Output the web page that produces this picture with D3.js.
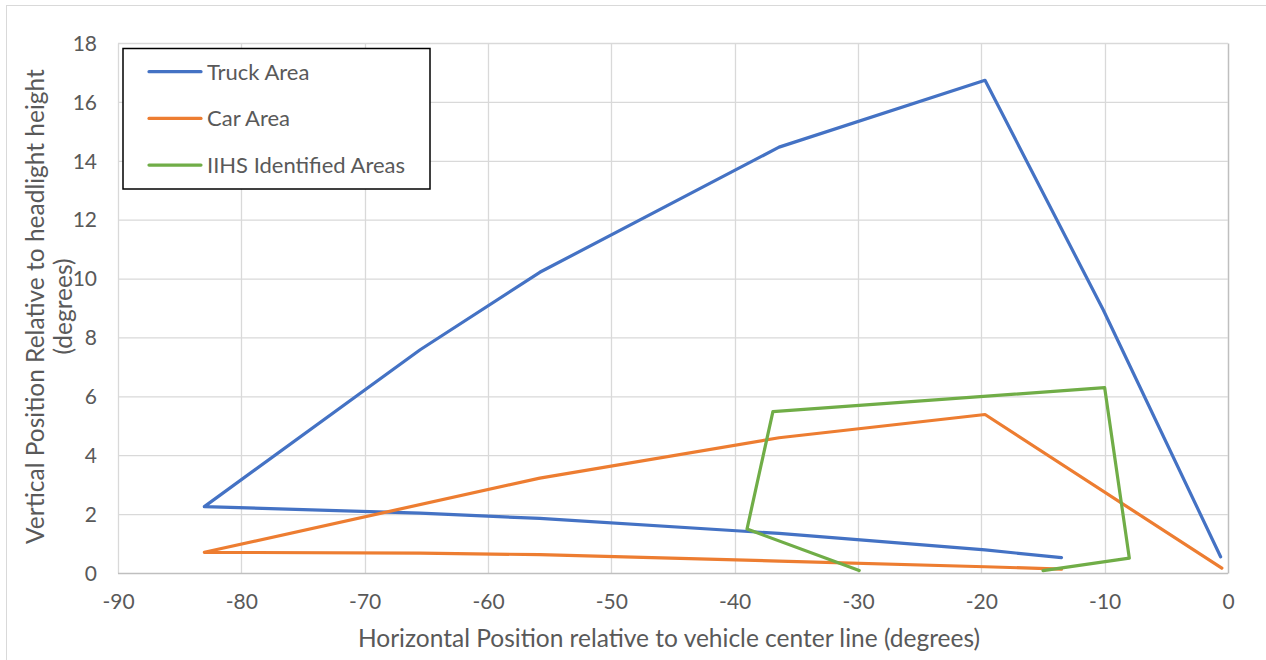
<!DOCTYPE html>
<html><head><meta charset="utf-8">
<script src="https://cdn.jsdelivr.net/npm/d3@7/dist/d3.min.js"></script>
<style>body{margin:0;background:#fff}svg{display:block}text{font-family:Lato,"Open Sans",sans-serif;fill:#595959}</style>
</head><body><svg id="c" width="1266" height="660"></svg>
<script>
const xTicks = [-90,-80,-70,-60,-50,-40,-30,-20,-10,0];
const yTicks = [0,2,4,6,8,10,12,14,16,18];
const seriesNames = ["Truck Area","Car Area","IIHS Identified Areas"];
const seriesColors = ["#4472C4","#ED7D31","#70AD47"];
const truckX = [-13.5,-19.7,-36.4,-55.8,-65.5,-83.0,-65.5,-55.8,-36.4,-19.7,-10.1,-0.6];
const truckY = [0.54,0.80,1.36,1.87,2.05,2.27,7.60,10.23,14.48,16.75,8.94,0.57];
const carX = [-13.5,-19.7,-36.4,-55.8,-65.5,-83.0,-55.8,-36.4,-19.7,-0.5];
const carY = [0.15,0.23,0.42,0.64,0.69,0.72,3.24,4.61,5.40,0.18];
const iihsX = [-29.9,-39.0,-36.9,-10.0,-8.0,-15.0];
const iihsY = [0.10,1.51,5.50,6.31,0.52,0.10];

const svg = d3.select("#c");
const L=118, R=1228, T=43.5, B=573.5;
const x = d3.scaleLinear().domain([-90,0]).range([L,R]);
const y = d3.scaleLinear().domain([0,18]).range([B,T]);

svg.append("rect").attr("x",6.5).attr("y",5.5).attr("width",1300).attr("height",700)
  .attr("fill","none").attr("stroke","#d9d9d9").attr("stroke-width",1);

// gridlines
const g = svg.append("g");
g.selectAll(".vx").data(xTicks).join("line")
  .attr("x1",d=>Math.round(x(d))+0.5).attr("x2",d=>Math.round(x(d))+0.5).attr("y1",T).attr("y2",B)
  .attr("stroke",d=>d===0?"#bfbfbf":"#d9d9d9").attr("stroke-width",d=>d===0?1.5:1.3);
g.selectAll(".hy").data(yTicks).join("line")
  .attr("y1",d=>y(d)).attr("y2",d=>y(d)).attr("x1",L).attr("x2",R)
  .attr("stroke",d=>d===0?"#bfbfbf":"#d9d9d9").attr("stroke-width",d=>d===0?1.5:1.3);

const fmt = d=>String(d);
const xAxis = svg.append("g").attr("transform",`translate(0,${B})`)
  .call(d3.axisBottom(x).tickValues(xTicks).tickFormat(fmt).tickSize(0).tickPadding(21));
xAxis.select(".domain").remove();
xAxis.selectAll("text").style("font-size","21px").style("fill","#595959").style("font-family","Lato,sans-serif");
const yAxis = svg.append("g").attr("transform",`translate(${L},0)`)
  .call(d3.axisLeft(y).tickValues(yTicks).tickFormat(fmt).tickSize(0).tickPadding(21));
yAxis.select(".domain").remove();
yAxis.selectAll("text").style("font-size","21px").style("fill","#595959").style("font-family","Lato,sans-serif");

// series
const line = d3.line().x(d=>x(d[0])).y(d=>y(d[1]));
const series = [d3.zip(truckX,truckY), d3.zip(carX,carY), d3.zip(iihsX,iihsY)];
svg.append("g").selectAll("path").data(series).join("path")
  .attr("d",line).attr("fill","none")
  .attr("stroke",(d,i)=>seriesColors[i]).attr("stroke-width",3.2)
  .attr("stroke-linejoin","round").attr("stroke-linecap","round");

// axis titles
svg.append("text").attr("x",669).attr("y",647).attr("text-anchor","middle")
  .style("font-size","24.5px").text("Horizontal Position relative to vehicle center line (degrees)");
const yt = svg.append("text").attr("transform",`translate(44,${(T+B)/2-2}) rotate(-90)`).attr("text-anchor","middle")
  .style("font-size","24.5px");
yt.append("tspan").attr("x",0).attr("dy",0).text("Vertical Position Relative to headlight height");
yt.append("tspan").attr("x",0).attr("dy",28).text("(degrees)");

// legend
const lg = svg.append("g");
lg.append("rect").attr("x",123).attr("y",48.5).attr("width",307).attr("height",140.5)
  .attr("fill","#fff").attr("stroke","#000").attr("stroke-width",1.5);
const items = lg.selectAll(".it").data(seriesNames).join("g").attr("transform",(d,i)=>`translate(0,${71.7+i*46.7})`);
items.append("line").attr("x1",149).attr("x2",201).attr("stroke",(d,i)=>seriesColors[i]).attr("stroke-width",3.2).attr("stroke-linecap","round");
items.append("text").attr("x",207).attr("y",8).style("font-size","22px").text(d=>d);
</script></body></html>
